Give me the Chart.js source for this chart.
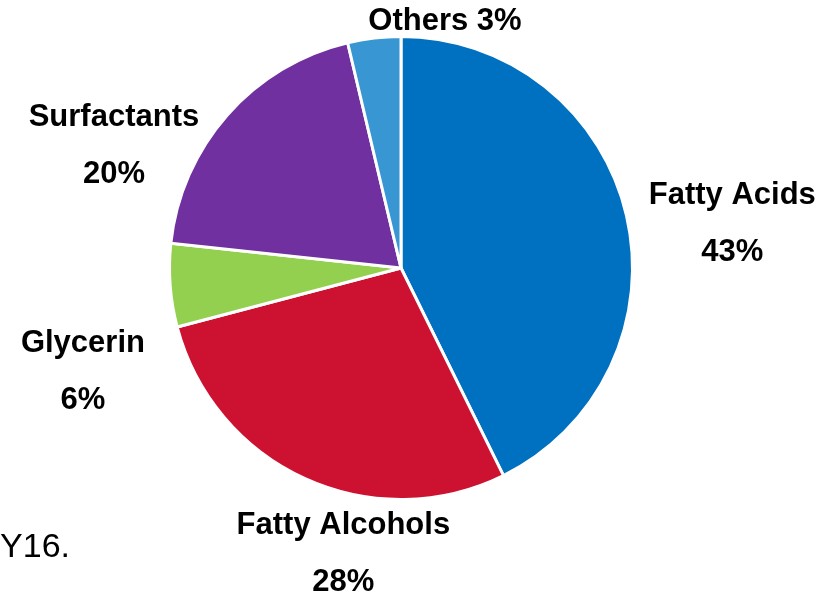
<!DOCTYPE html>
<html>
<head>
<meta charset="utf-8">
<script src="https://cdn.jsdelivr.net/npm/chart.js@4/dist/chart.umd.min.js"></script>
<style>
  body { margin: 0; background: #fff; }
  canvas { display: block; }
</style>
</head>
<body>
<canvas id="pieC" width="825" height="597"></canvas>
<script>
const categories = ["Fatty Acids", "Fatty Alcohols", "Glycerin", "Surfactants", "Others"];
// slice sizes as measured from the drawing, and the rounded figures printed on it
const shares = [42.7, 28.2, 5.8, 19.6, 3.7];
const shownPct = ["43%", "28%", "6%", "20%", "3%"];
const sliceColors = ["#0070C0", "#CC1230", "#94D050", "#7030A0", "#3896D3"];
// where each label sits, in units of the pie radius from its centre
const labelSpots = [
    [1.431, -0.315],
    [-0.249, 1.114],
    [-1.374, 0.326],
    [-1.240, -0.652],
    [0.190, -1.064],
];
const lineGap = 57;

const labelPlugin = {
    id: "sliceLabels",
    afterDatasetsDraw(chart) {
        const ctx = chart.ctx;
        const arcs = chart.getDatasetMeta(0).data;
        ctx.save();
        ctx.fillStyle = "#000";
        ctx.textAlign = "center";
        ctx.textBaseline = "middle";
        ctx.font = "bold 31px 'Liberation Sans', Arial, sans-serif";
        for (let i = 0; i < arcs.length; i++) {
            let a = arcs[i];
            let x = a.x + labelSpots[i][0] * a.outerRadius;
            let y = a.y + labelSpots[i][1] * a.outerRadius;
            if (categories[i] === "Others") {
                ctx.fillText(categories[i] + " " + shownPct[i], x, y);
            } else {
                ctx.fillText(categories[i], x, y);
                ctx.fillText(shownPct[i], x, y + lineGap);
            }
        }
        // leftover slide text, clipped at the left edge
        ctx.font = "34px 'Liberation Sans', Arial, sans-serif";
        ctx.textAlign = "right";
        ctx.textBaseline = "alphabetic";
        ctx.fillText("Y16.", 70, 557);
        ctx.restore();
    },
};

new Chart(document.getElementById("pieC"), {
    type: "pie",
    data: {
        labels: categories,
        datasets: [
            {
                data: shares,
                backgroundColor: sliceColors,
                borderColor: "#fff",
                borderWidth: 3,
            },
        ],
    },
    options: {
        responsive: false,
        animation: false,
        layout: {
            padding: { left: 168, right: 191, top: 35, bottom: 96 },
        },
        plugins: {
            legend: { display: false },
            tooltip: { enabled: false },
        },
    },
    plugins: [labelPlugin],
});
</script>
</body>
</html>
